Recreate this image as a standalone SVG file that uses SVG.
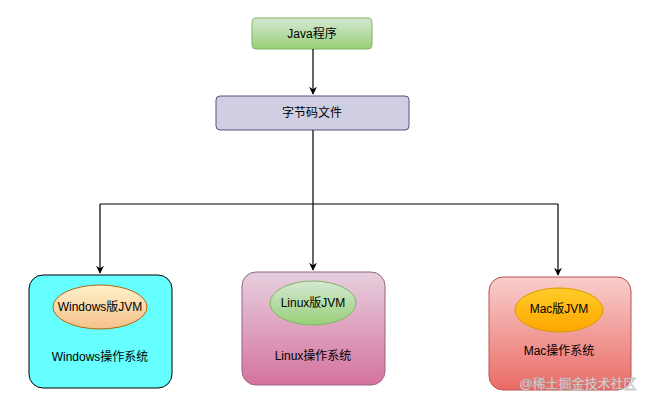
<svg xmlns="http://www.w3.org/2000/svg" width="651" height="404" viewBox="0 0 651 404">
<defs>
<linearGradient id="gJ" x1="0" y1="0" x2="0" y2="1"><stop offset="0" stop-color="#d5e8d4"/><stop offset="1" stop-color="#97d077"/></linearGradient>
<linearGradient id="gL" x1="0" y1="0" x2="0" y2="1"><stop offset="0" stop-color="#e6d0de"/><stop offset="1" stop-color="#d5739d"/></linearGradient>
<linearGradient id="gM" x1="0" y1="0" x2="0" y2="1"><stop offset="0" stop-color="#f8cecc"/><stop offset="1" stop-color="#ea6b66"/></linearGradient>
<linearGradient id="gW" x1="0" y1="0" x2="0" y2="1"><stop offset="0" stop-color="#fff2cc"/><stop offset="1" stop-color="#f5c08a"/></linearGradient>
<linearGradient id="gLE" x1="0" y1="0" x2="0" y2="1"><stop offset="0" stop-color="#d5e8d4"/><stop offset="1" stop-color="#97d077"/></linearGradient>
<linearGradient id="gME" x1="0" y1="0" x2="0" y2="1"><stop offset="0" stop-color="#ffcd28"/><stop offset="1" stop-color="#ffa500"/></linearGradient>
<marker id="arr" viewBox="0 0 10 10" refX="9" refY="5" markerWidth="8" markerHeight="8" orient="auto" markerUnits="userSpaceOnUse"><path d="M0,0 L10,5 L0,10 L3,5 z" fill="#000"/></marker>
</defs>
<style>
text{font-family:"Liberation Sans","Noto Sans CJK SC",sans-serif;font-size:12px;text-anchor:middle;dominant-baseline:central;fill:#000}
.c{fill:none;stroke:#000;stroke-width:1.2}
</style>
<rect width="651" height="404" fill="#fff"/>
<g id="java"><rect x="252" y="18" width="120" height="31" rx="4" fill="url(#gJ)" stroke="#82b366"/><text x="312" y="34">Java程序</text></g>
<g id="bytecode"><rect x="216" y="96" width="193" height="34" rx="4" fill="#d0cee2" stroke="#56517e"/><text x="312" y="113">字节码文件</text></g>
<g id="connectors">
<path class="c" d="M313,49 V94" marker-end="url(#arr)"/>
<path class="c" d="M313,130 V270" marker-end="url(#arr)"/>
<path class="c" d="M100,204 H558"/>
<path class="c" d="M100,204 V273" marker-end="url(#arr)"/>
<path class="c" d="M558,204 V275" marker-end="url(#arr)"/>
</g>
<g id="windows"><rect x="29" y="275" width="143" height="113" rx="14" fill="#66ffff" stroke="#000"/><ellipse cx="100" cy="307" rx="47" ry="22" fill="url(#gW)" stroke="#b46504"/><text x="100" y="307">Windows版JVM</text><text x="100" y="357">Windows操作系统</text></g>
<g id="linux"><rect x="242" y="272" width="143" height="113" rx="14" fill="url(#gL)" stroke="#996185"/><ellipse cx="313" cy="303" rx="43" ry="22" fill="url(#gLE)" stroke="#82b366"/><text x="313" y="303">Linux版JVM</text><text x="313" y="356">Linux操作系统</text></g>
<g id="mac"><rect x="489" y="277" width="142" height="113" rx="14" fill="url(#gM)" stroke="#b85450"/><ellipse cx="559" cy="310" rx="44" ry="22" fill="url(#gME)" stroke="#d79b00"/><text x="559" y="309">Mac版JVM</text><text x="559" y="351">Mac操作系统</text></g>
<text x="578" y="383" style="font-size:13px;fill:#e8e8e8;stroke:#aaa;stroke-width:0.4">@稀土掘金技术社区</text>
</svg>
